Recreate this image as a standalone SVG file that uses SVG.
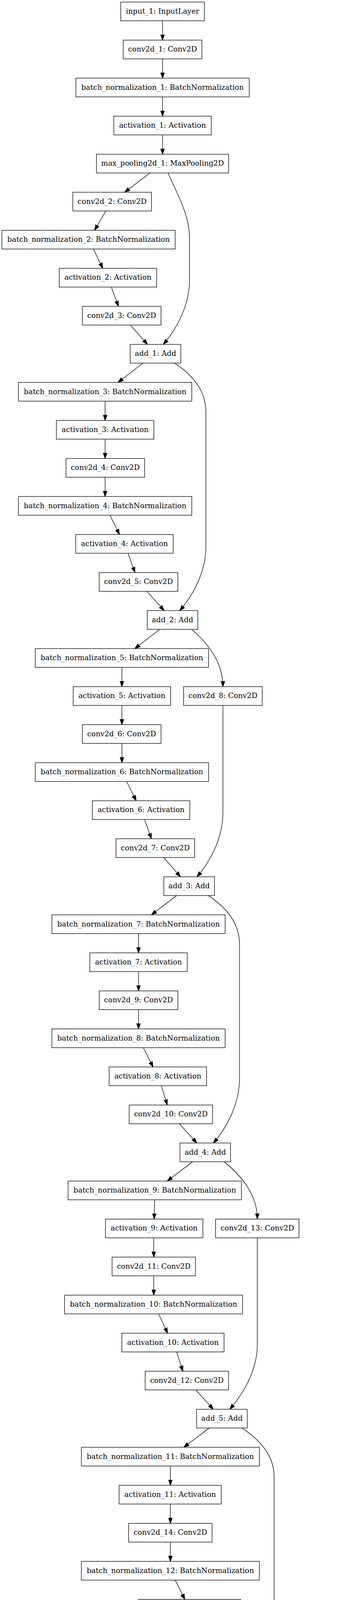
<svg xmlns="http://www.w3.org/2000/svg" width="929" height="6192" viewBox="0 0 929 6192">
<defs>
<style>
.node rect{fill:#fff;stroke:#000;stroke-width:1.33}
.node text{font-family:"DejaVu Serif","Liberation Serif",serif;font-size:18.67px;text-anchor:middle;fill:#000}
.edge{fill:none;stroke:#000;stroke-width:1.33;marker-end:url(#ah)}
</style>
<marker id="ah" markerUnits="userSpaceOnUse" markerWidth="16" markerHeight="12" refX="13.33" refY="6" orient="auto" overflow="visible">
<path d="M0,1.33 L13.33,6 L0,10.67 Z" fill="#000" stroke="#000" stroke-width="1.33"/>
</marker>
</defs>
<rect width="929" height="6192" fill="#fff"/>
<g id="connectors">
<path class="edge" d="M416,53.33 L416,102.69"/>
<path class="edge" d="M416,150.69 L416,200.05"/>
<path class="edge" d="M416,248.05 L416,297.41"/>
<path class="edge" d="M416,345.41 L416,394.77"/>
<path class="edge" d="M384,442.77 L319,492.13"/>
<path class="edge" d="M430,442.77 C455,500 485,550 485,610 L485,716.6 C485,781.6 453,841.6 418,881.57"/>
<path class="edge" d="M271,540.13 L242,589.49"/>
<path class="edge" d="M239,637.49 L263,686.85"/>
<path class="edge" d="M285,734.85 L303,784.21"/>
<path class="edge" d="M333.6,832.21 L377.4,881.57"/>
<path class="edge" d="M366,929.57 L302,978.93"/>
<path class="edge" d="M447,929.57 C485,954.6 527,994.6 527,1054.6 L527,1398 C527,1463 495,1523 460,1563.09"/>
<path class="edge" d="M269,1026.93 L269,1076.29"/>
<path class="edge" d="M269,1124.29 L269,1173.65"/>
<path class="edge" d="M269,1221.65 L269,1271.01"/>
<path class="edge" d="M281.4,1319.01 L305.7,1368.37"/>
<path class="edge" d="M327.6,1416.37 L345.4,1465.73"/>
<path class="edge" d="M376,1513.73 L420,1563.09"/>
<path class="edge" d="M409,1611.09 L345,1660.45"/>
<path class="edge" d="M490,1611.09 C525,1640 570.5,1690 570.5,1757.81"/>
<path class="edge" d="M312,1708.45 L312,1757.81"/>
<path class="edge" d="M312,1805.81 L312,1855.17"/>
<path class="edge" d="M312,1903.17 L312,1952.53"/>
<path class="edge" d="M324,2000.53 L348.4,2049.89"/>
<path class="edge" d="M570.5,1805.81 L570.5,2079.6 C570.5,2144.6 539,2204.6 504,2244.61"/>
<path class="edge" d="M370,2097.89 L387.5,2147.25"/>
<path class="edge" d="M419,2195.25 L462,2244.61"/>
<path class="edge" d="M452,2292.61 L387.5,2341.97"/>
<path class="edge" d="M533,2292.61 C571,2317.6 613,2357.6 613,2417.6 L613,2761 C613,2826 581,2886 546,2926.13"/>
<path class="edge" d="M354.5,2389.97 L354.5,2439.33"/>
<path class="edge" d="M354.5,2487.33 L354.5,2536.69"/>
<path class="edge" d="M354.5,2584.69 L354.5,2634.05"/>
<path class="edge" d="M366.8,2682.05 L391.6,2731.41"/>
<path class="edge" d="M413,2779.41 L428,2828.77"/>
<path class="edge" d="M459,2876.77 L503.6,2926.13"/>
<path class="edge" d="M493,2974.13 L427.8,3023.49"/>
<path class="edge" d="M573.5,2974.13 C610,3003 658.5,3053 658.5,3120.85"/>
<path class="edge" d="M395.8,3071.49 L394.6,3120.85"/>
<path class="edge" d="M393.5,3168.85 L393.5,3218.21"/>
<path class="edge" d="M393.5,3266.21 L393.5,3315.57"/>
<path class="edge" d="M405.9,3363.57 L429,3412.93"/>
<path class="edge" d="M658.5,3168.85 L658.5,3442.6 C658.5,3507.6 623,3567.6 588,3607.65"/>
<path class="edge" d="M452,3460.93 L468,3510.29"/>
<path class="edge" d="M501,3558.29 L545.7,3607.65"/>
<path class="edge" d="M535.6,3655.65 L470.4,3705.01"/>
<path class="edge" d="M619,3655.65 C657,3680.6 701.5,3720.6 701.5,3780.6 L701.5,4124 C701.5,4189 666.6,4249 631.6,4289.17"/>
<path class="edge" d="M436,3753.01 L436,3802.37"/>
<path class="edge" d="M436,3850.37 L436,3899.73"/>
<path class="edge" d="M436,3947.73 L436,3997.09"/>
<path class="edge" d="M448.5,4045.09 L473,4094.45"/>
<path class="edge" d="M494.7,4142.45 L510.7,4191.81"/>
<path class="edge" d="M543.3,4239.81 L587.8,4289.17"/>
<path class="edge" d="M578.3,4337.17 L512.5,4386.53"/>
<path class="edge" d="M661.8,4337.17 C697,4366 744,4416 744,4483.89"/>
<path class="edge" d="M478.7,4434.53 L478.7,4483.89"/>
<path class="edge" d="M478.7,4531.89 L478.7,4581.25"/>
<path class="edge" d="M478.7,4629.25 L478.7,4678.61"/>
<path class="edge" d="M491,4726.61 L516,4775.97"/>
<path class="edge" d="M537.4,4823.97 L554,4873.33"/>
<path class="edge" d="M744,4531.89 L744,4805.7 C744,4870.7 708,4930.7 673,4970.69"/>
<path class="edge" d="M585.4,4921.33 L631.6,4970.69"/>
<path class="edge" d="M621,5018.69 L555,5068.05"/>
<path class="edge" d="M705,5018.69 C743,5043.7 786.8,5083.7 786.8,5143.7 L786.8,5487 C786.8,5552 751.5,5612 716.5,5652.21"/>
<path class="edge" d="M521.4,5116.05 L521.4,5165.41"/>
<path class="edge" d="M521.4,5213.41 L521.4,5262.77"/>
<path class="edge" d="M521.4,5310.77 L521.4,5360.13"/>
<path class="edge" d="M533.8,5408.13 L558,5457.49"/>
<path class="edge" d="M579.5,5505.49 L596,5554.85"/>
<path class="edge" d="M628,5602.85 L674,5652.21"/>
<path class="edge" d="M695.8,5700.21 L695.8,5749.57"/>
<path class="edge" d="M695.8,5797.57 L695.8,5846.93"/>
<path class="edge" d="M695.8,5894.93 L695.8,5944.29"/>
<path class="edge" d="M695.8,5992.29 L695.8,6041.65"/>
<path class="edge" d="M695.8,6089.65 L695.8,6139.01"/>
</g>
<g id="input_1" class="node"><rect x="309" y="5.33" width="214" height="48"/><text x="416" y="34.93">input_1: InputLayer</text></g>
<g id="conv2d_1" class="node"><rect x="315.35" y="102.69" width="201.3" height="48"/><text x="416" y="132.29">conv2d_1: Conv2D</text></g>
<g id="batch_normalization_1" class="node"><rect x="194.25" y="200.05" width="443.5" height="48"/><text x="416" y="229.65">batch_normalization_1: BatchNormalization</text></g>
<g id="activation_1" class="node"><rect x="291.35" y="297.41" width="249.3" height="48"/><text x="416" y="327.01">activation_1: Activation</text></g>
<g id="max_pooling2d_1" class="node"><rect x="246.75" y="394.77" width="338.5" height="48"/><text x="416" y="424.37">max_pooling2d_1: MaxPooling2D</text></g>
<g id="conv2d_2" class="node"><rect x="186.35" y="492.13" width="201.3" height="48"/><text x="287" y="521.73">conv2d_2: Conv2D</text></g>
<g id="batch_normalization_2" class="node"><rect x="4.85" y="589.49" width="443.5" height="48"/><text x="226.6" y="619.09">batch_normalization_2: BatchNormalization</text></g>
<g id="activation_2" class="node"><rect x="151.65" y="686.85" width="249.3" height="48"/><text x="276.3" y="716.45">activation_2: Activation</text></g>
<g id="conv2d_3" class="node"><rect x="210.85" y="784.21" width="201.3" height="48"/><text x="311.5" y="813.81">conv2d_3: Conv2D</text></g>
<g id="add_1" class="node"><rect x="333.25" y="881.57" width="129.5" height="48"/><text x="398" y="911.17">add_1: Add</text></g>
<g id="batch_normalization_3" class="node"><rect x="47.25" y="978.93" width="443.5" height="48"/><text x="269" y="1008.53">batch_normalization_3: BatchNormalization</text></g>
<g id="activation_3" class="node"><rect x="144.35" y="1076.29" width="249.3" height="48"/><text x="269" y="1105.89">activation_3: Activation</text></g>
<g id="conv2d_4" class="node"><rect x="168.85" y="1173.65" width="201.3" height="48"/><text x="269.5" y="1203.25">conv2d_4: Conv2D</text></g>
<g id="batch_normalization_4" class="node"><rect x="47.25" y="1271.01" width="443.5" height="48"/><text x="269" y="1300.61">batch_normalization_4: BatchNormalization</text></g>
<g id="activation_4" class="node"><rect x="193.85" y="1368.37" width="249.3" height="48"/><text x="318.5" y="1397.97">activation_4: Activation</text></g>
<g id="conv2d_5" class="node"><rect x="253.85" y="1465.73" width="201.3" height="48"/><text x="354.5" y="1495.33">conv2d_5: Conv2D</text></g>
<g id="add_2" class="node"><rect x="376.75" y="1563.09" width="129.5" height="48"/><text x="441.5" y="1592.69">add_2: Add</text></g>
<g id="batch_normalization_5" class="node"><rect x="90.25" y="1660.45" width="443.5" height="48"/><text x="312" y="1690.05">batch_normalization_5: BatchNormalization</text></g>
<g id="activation_5" class="node"><rect x="187.35" y="1757.81" width="249.3" height="48"/><text x="312" y="1787.41">activation_5: Activation</text></g>
<g id="conv2d_8" class="node"><rect x="469.85" y="1757.81" width="201.3" height="48"/><text x="570.5" y="1787.41">conv2d_8: Conv2D</text></g>
<g id="conv2d_6" class="node"><rect x="210.85" y="1855.17" width="201.3" height="48"/><text x="311.5" y="1884.77">conv2d_6: Conv2D</text></g>
<g id="batch_normalization_6" class="node"><rect x="90.25" y="1952.53" width="443.5" height="48"/><text x="312" y="1982.13">batch_normalization_6: BatchNormalization</text></g>
<g id="activation_6" class="node"><rect x="236.35" y="2049.89" width="249.3" height="48"/><text x="361" y="2079.49">activation_6: Activation</text></g>
<g id="conv2d_7" class="node"><rect x="296.85" y="2147.25" width="201.3" height="48"/><text x="397.5" y="2176.85">conv2d_7: Conv2D</text></g>
<g id="add_3" class="node"><rect x="419.25" y="2244.61" width="129.5" height="48"/><text x="484" y="2274.21">add_3: Add</text></g>
<g id="batch_normalization_7" class="node"><rect x="132.75" y="2341.97" width="443.5" height="48"/><text x="354.5" y="2371.57">batch_normalization_7: BatchNormalization</text></g>
<g id="activation_7" class="node"><rect x="229.85" y="2439.33" width="249.3" height="48"/><text x="354.5" y="2468.93">activation_7: Activation</text></g>
<g id="conv2d_9" class="node"><rect x="253.85" y="2536.69" width="201.3" height="48"/><text x="354.5" y="2566.29">conv2d_9: Conv2D</text></g>
<g id="batch_normalization_8" class="node"><rect x="132.75" y="2634.05" width="443.5" height="48"/><text x="354.5" y="2663.65">batch_normalization_8: BatchNormalization</text></g>
<g id="activation_8" class="node"><rect x="279.35" y="2731.41" width="249.3" height="48"/><text x="404" y="2761.01">activation_8: Activation</text></g>
<g id="conv2d_10" class="node"><rect x="330.55" y="2828.77" width="213.5" height="48"/><text x="437.3" y="2858.37">conv2d_10: Conv2D</text></g>
<g id="add_4" class="node"><rect x="460.55" y="2926.13" width="129.5" height="48"/><text x="525.3" y="2955.73">add_4: Add</text></g>
<g id="batch_normalization_9" class="node"><rect x="174.25" y="3023.49" width="443.5" height="48"/><text x="396" y="3053.09">batch_normalization_9: BatchNormalization</text></g>
<g id="activation_9" class="node"><rect x="269.95" y="3120.85" width="249.3" height="48"/><text x="394.6" y="3150.45">activation_9: Activation</text></g>
<g id="conv2d_13" class="node"><rect x="551.75" y="3120.85" width="213.5" height="48"/><text x="658.5" y="3150.45">conv2d_13: Conv2D</text></g>
<g id="conv2d_11" class="node"><rect x="286.75" y="3218.21" width="213.5" height="48"/><text x="393.5" y="3247.81">conv2d_11: Conv2D</text></g>
<g id="batch_normalization_10" class="node"><rect x="165.35" y="3315.57" width="455.3" height="48"/><text x="393" y="3345.17">batch_normalization_10: BatchNormalization</text></g>
<g id="activation_10" class="node"><rect x="311.8" y="3412.93" width="261.6" height="48"/><text x="442.6" y="3442.53">activation_10: Activation</text></g>
<g id="conv2d_12" class="node"><rect x="371.55" y="3510.29" width="213.5" height="48"/><text x="478.3" y="3539.89">conv2d_12: Conv2D</text></g>
<g id="add_5" class="node"><rect x="503.25" y="3607.65" width="129.5" height="48"/><text x="568" y="3637.25">add_5: Add</text></g>
<g id="batch_normalization_11" class="node"><rect x="208.35" y="3705.01" width="455.3" height="48"/><text x="436" y="3734.61">batch_normalization_11: BatchNormalization</text></g>
<g id="activation_11" class="node"><rect x="304.7" y="3802.37" width="261.6" height="48"/><text x="435.5" y="3831.97">activation_11: Activation</text></g>
<g id="conv2d_14" class="node"><rect x="329.25" y="3899.73" width="213.5" height="48"/><text x="436" y="3929.33">conv2d_14: Conv2D</text></g>
<g id="batch_normalization_12" class="node"><rect x="208.35" y="3997.09" width="455.3" height="48"/><text x="436" y="4026.69">batch_normalization_12: BatchNormalization</text></g>
<g id="activation_12" class="node"><rect x="354.2" y="4094.45" width="261.6" height="48"/><text x="485" y="4124.05">activation_12: Activation</text></g>
<g id="conv2d_15" class="node"><rect x="414.75" y="4191.81" width="213.5" height="48"/><text x="521.5" y="4221.41">conv2d_15: Conv2D</text></g>
<g id="add_6" class="node"><rect x="545.85" y="4289.17" width="129.5" height="48"/><text x="610.6" y="4318.77">add_6: Add</text></g>
<g id="batch_normalization_13" class="node"><rect x="250.85" y="4386.53" width="455.3" height="48"/><text x="478.5" y="4416.13">batch_normalization_13: BatchNormalization</text></g>
<g id="activation_13" class="node"><rect x="348.2" y="4483.89" width="261.6" height="48"/><text x="479" y="4513.49">activation_13: Activation</text></g>
<g id="conv2d_18" class="node"><rect x="637.25" y="4483.89" width="213.5" height="48"/><text x="744" y="4513.49">conv2d_18: Conv2D</text></g>
<g id="conv2d_16" class="node"><rect x="371.75" y="4581.25" width="213.5" height="48"/><text x="478.5" y="4610.85">conv2d_16: Conv2D</text></g>
<g id="batch_normalization_14" class="node"><rect x="250.85" y="4678.61" width="455.3" height="48"/><text x="478.5" y="4708.21">batch_normalization_14: BatchNormalization</text></g>
<g id="activation_14" class="node"><rect x="397.2" y="4775.97" width="261.6" height="48"/><text x="528" y="4805.57">activation_14: Activation</text></g>
<g id="conv2d_17" class="node"><rect x="457.25" y="4873.33" width="213.5" height="48"/><text x="564" y="4902.93">conv2d_17: Conv2D</text></g>
<g id="add_7" class="node"><rect x="588.25" y="4970.69" width="129.5" height="48"/><text x="653" y="5000.29">add_7: Add</text></g>
<g id="batch_normalization_15" class="node"><rect x="293.85" y="5068.05" width="455.3" height="48"/><text x="521.5" y="5097.65">batch_normalization_15: BatchNormalization</text></g>
<g id="activation_15" class="node"><rect x="390.5" y="5165.41" width="261.6" height="48"/><text x="521.3" y="5195.01">activation_15: Activation</text></g>
<g id="conv2d_19" class="node"><rect x="414.75" y="5262.77" width="213.5" height="48"/><text x="521.5" y="5292.37">conv2d_19: Conv2D</text></g>
<g id="batch_normalization_16" class="node"><rect x="293.85" y="5360.13" width="455.3" height="48"/><text x="521.5" y="5389.73">batch_normalization_16: BatchNormalization</text></g>
<g id="activation_16" class="node"><rect x="440" y="5457.49" width="261.6" height="48"/><text x="570.8" y="5487.09">activation_16: Activation</text></g>
<g id="conv2d_20" class="node"><rect x="499.75" y="5554.85" width="213.5" height="48"/><text x="606.5" y="5584.45">conv2d_20: Conv2D</text></g>
<g id="add_8" class="node"><rect x="630.75" y="5652.21" width="129.5" height="48"/><text x="695.5" y="5681.81">add_8: Add</text></g>
<g id="batch_normalization_17" class="node"><rect x="468.55" y="5749.57" width="455.3" height="48"/><text x="696.2" y="5779.17">batch_normalization_17: BatchNormalization</text></g>
<g id="activation_17" class="node"><rect x="565" y="5846.93" width="261.6" height="48"/><text x="695.8" y="5876.53">activation_17: Activation</text></g>
<g id="average_pooling2d_1" class="node"><rect x="490.6" y="5944.29" width="410.4" height="48"/><text x="695.8" y="5973.89">average_pooling2d_1: AveragePooling2D</text></g>
<g id="flatten_1" class="node"><rect x="602.6" y="6041.65" width="186.4" height="48"/><text x="695.8" y="6071.25">flatten_1: Flatten</text></g>
<g id="dense_1" class="node"><rect x="611" y="6139.01" width="170" height="48"/><text x="696" y="6168.61">dense_1: Dense</text></g>
</svg>
